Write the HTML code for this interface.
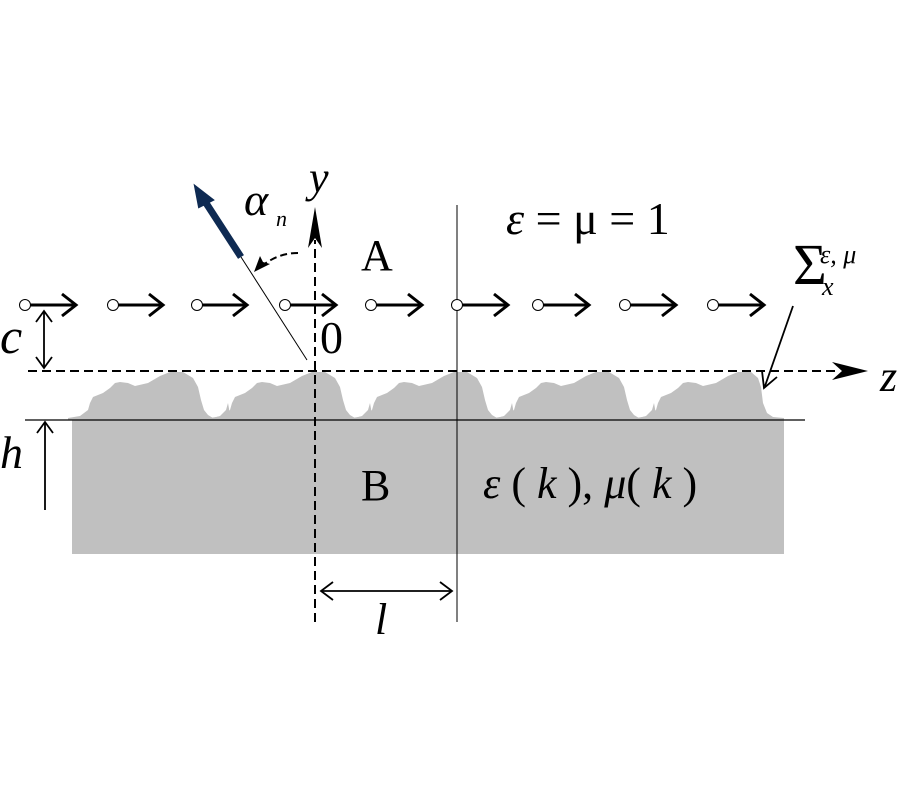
<!DOCTYPE html>
<html><head><meta charset="utf-8"><style>
html,body{margin:0;padding:0;background:#fff;}
svg{display:block;}
text{font-family:"Liberation Serif",serif;fill:#000;}
</style></head><body>
<svg width="900" height="800" viewBox="0 0 900 800" xmlns="http://www.w3.org/2000/svg">
<defs>
<g id="bump"><polygon fill="#c0c0c0" points="68,420 68,418 80,416 88,410 90,403 93,397 103,393 110,388 115,383 120,382 128,383 135,386 148,383 160,376 170,372 183,372 193,378 198,387 201,400 204,410 208,415 213,418 213,420"/>
<polygon fill="#c0c0c0" points="205,420 213,418 220,416 226,410 228,403 231,420"/></g>
</defs>
<rect x="72" y="420" width="712" height="134" fill="#c0c0c0"/>
<use href="#bump"/>
<use href="#bump" x="142"/>
<use href="#bump" x="284"/>
<use href="#bump" x="426"/>
<polygon fill="#c0c0c0" points="636,420 636,418 648,416 656,410 658,403 661,397 671,393 678,388 683,383 688,382 696,383 703,386 716,383 728,376 738,372 751,372 758,378 761,387 763,403 767,413 773,417 784,418 784,420"/>
<line x1="25" y1="420" x2="805" y2="420" stroke="#000" stroke-width="1.2"/>
<line x1="28" y1="371" x2="835" y2="371" stroke="#000" stroke-width="2" stroke-dasharray="9,5"/>
<polygon points="868,371 832,362 842,371 832,380" fill="#000"/>
<line x1="315" y1="622" x2="315" y2="240" stroke="#000" stroke-width="2" stroke-dasharray="9,5"/>
<polygon points="315,207 308,248 315,238 322,248" fill="#000"/>
<line x1="457" y1="205" x2="457" y2="622" stroke="#000" stroke-width="1"/>
<g stroke="#000" fill="none" stroke-width="3">
<line x1="30" y1="305" x2="76" y2="305"/><polyline points="62,294 76,305 62,316"/>
<line x1="118" y1="305" x2="163" y2="305"/><polyline points="149,294 163,305 149,316"/>
<line x1="202" y1="305" x2="247" y2="305"/><polyline points="233,294 247,305 233,316"/>
<line x1="290" y1="305" x2="336" y2="305"/><polyline points="322,294 336,305 322,316"/>
<line x1="376" y1="305" x2="422" y2="305"/><polyline points="408,294 422,305 408,316"/>
<line x1="462" y1="305" x2="508" y2="305"/><polyline points="494,294 508,305 494,316"/>
<line x1="543" y1="305" x2="589" y2="305"/><polyline points="575,294 589,305 575,316"/>
<line x1="630" y1="305" x2="676" y2="305"/><polyline points="662,294 676,305 662,316"/>
<line x1="718" y1="305" x2="764" y2="305"/><polyline points="750,294 764,305 750,316"/>
</g>
<g stroke="#000" fill="#fff" stroke-width="1">
<circle cx="25" cy="305" r="5.5"/><circle cx="113" cy="305" r="5.5"/><circle cx="197" cy="305" r="5.5"/>
<circle cx="285" cy="305" r="5.5"/><circle cx="371" cy="305" r="5.5"/><circle cx="457" cy="305" r="5.5"/>
<circle cx="538" cy="305" r="5.5"/><circle cx="625" cy="305" r="5.5"/><circle cx="713" cy="305" r="5.5"/>
</g>
<line x1="241" y1="257" x2="307" y2="360" stroke="#000" stroke-width="1"/>
<line x1="241" y1="257" x2="206" y2="203" stroke="#0e2a52" stroke-width="7"/>
<polygon points="195,186 213,200 199,207" fill="#0e2a52" stroke="#0e2a52" stroke-width="2"/>
<path d="M298,253 Q278,253 262,266" stroke="#000" stroke-width="2" fill="none" stroke-dasharray="7,4"/>
<polygon points="254,272 260,256 263,262 270,264" fill="#000"/>
<g stroke="#000" stroke-width="1.8" fill="none">
<line x1="44" y1="311" x2="44" y2="368"/><polyline points="36,322 44,311 52,322"/><polyline points="36,357 44,368 52,357"/>
<line x1="45" y1="422" x2="45" y2="510"/><polyline points="37,433 45,422 53,433"/>
<line x1="321" y1="591" x2="452" y2="591"/><polyline points="333,582 321,591 333,600"/><polyline points="440,582 452,591 440,600"/>
<line x1="793" y1="306" x2="765" y2="386"/><polyline points="762,371 764,388 777,377"/>
</g>
<text x="309" y="192" font-size="44" font-style="italic">y</text>
<text x="244" y="215" font-size="46" font-style="italic">α</text>
<text x="276" y="226" font-size="22" font-style="italic">n</text>
<text x="361" y="270" font-size="44">A</text>
<text x="506" y="234" font-size="46" font-style="italic">ε <tspan font-style="normal">= μ = 1</tspan></text>
<text x="793" y="284" font-size="58">Σ</text>
<text x="820" y="263" font-size="26" font-style="italic">ε, μ</text>
<text x="822" y="295" font-size="26" font-style="italic">x</text>
<text x="320" y="353" font-size="46">0</text>
<text x="0" y="353" font-size="50" font-style="italic">c</text>
<text x="0" y="468" font-size="46" font-style="italic">h</text>
<text x="880" y="391" font-size="44" font-style="italic">z</text>
<text x="361" y="500" font-size="44">B</text>
<text x="483" y="498" font-size="44" font-style="italic">ε<tspan font-style="normal"> (</tspan> k <tspan font-style="normal">), </tspan>μ<tspan font-style="normal">(</tspan> k <tspan font-style="normal">)</tspan></text>
<text x="375" y="634" font-size="44" font-style="italic">l</text>
</svg>
</body></html>
